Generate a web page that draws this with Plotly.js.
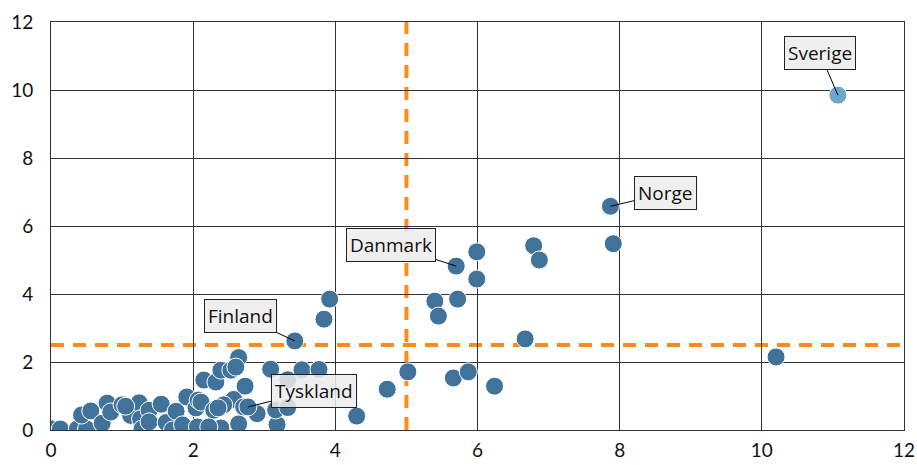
<!DOCTYPE html>
<html>
<head>
<meta charset="utf-8">
<script src="https://cdn.plot.ly/plotly-3.0.1.min.js"></script>
<style>html,body{margin:0;padding:0;background:#fff;}#chart{width:917px;height:465px;}</style>
</head>
<body>
<div id="chart"></div>
<script>
// Other countries (x, y)
const xOther = [0.02,0.13,0.37,0.50,0.43,0.56,0.72,0.79,0.84,1.00,1.12,1.24,1.26,1.28,1.38,1.38,1.55,1.62,1.76,1.71,1.87,1.91,2.04,2.01,2.07,2.11,2.15,2.21,2.32,2.29,2.39,2.41,2.39,2.53,2.57,2.64,2.64,2.60,2.73,2.90,3.09,3.18,3.16,3.33,3.33,3.53,3.77,1.85,2.06,2.22,2.43,2.71,2.35,1.05,
  4.30,4.73,5.02,5.66,5.87,6.24,3.84,3.92,5.40,5.45,5.72,5.99,5.99,6.79,6.87,7.91,6.67,10.20];
const yOther = [0.03,0.03,0.03,0.03,0.44,0.56,0.20,0.79,0.53,0.74,0.43,0.80,0.33,0.03,0.58,0.24,0.76,0.22,0.55,0.00,0.03,0.97,0.65,0.03,0.88,0.82,1.47,0.06,1.41,0.58,1.76,0.70,0.06,1.76,0.90,2.13,0.18,1.85,1.29,0.48,1.79,0.16,0.59,1.48,0.66,1.77,1.78,0.15,0.09,0.09,0.74,0.68,0.65,0.70,
  0.41,1.20,1.71,1.53,1.71,1.29,3.26,3.85,3.79,3.35,3.85,5.24,4.44,5.42,5.00,5.48,2.68,2.15];

// Labelled countries
const labelNames = ["Sverige","Norge","Danmark","Finland","Tyskland"];
const labelX = [11.07,7.87,5.70,3.43,2.77];
const labelY = [9.85,6.58,4.82,2.62,0.68];
const labelAx = [-18,55,-65,-54,66];
const labelAy = [-42,-13,-21,-25,-16];

// Reference thresholds
const threshX = 5;
const threshY = 2.5;

const xTicks = [0,2,4,6,8,10,12];
const yTicks = [0,2,4,6,8,10,12];

const baseColor = '#41739a';
const sverigeColor = '#6ba7cf';

const others = {
  x: xOther.concat(labelX.slice(1)),
  y: yOther.concat(labelY.slice(1)),
  mode: 'markers', type: 'scatter', hoverinfo: 'skip',
  marker: {size: 18, color: baseColor, line: {color: '#ffffff', width: 1}}
};
const sverige = {
  x: [labelX[0]], y: [labelY[0]],
  mode: 'markers', type: 'scatter', hoverinfo: 'skip',
  marker: {size: 18, color: sverigeColor, line: {color: '#ffffff', width: 1}}
};

const annotations = labelNames.map((n, i) => ({
  x: labelX[i], y: labelY[i], xref: 'x', yref: 'y',
  text: n, showarrow: true, arrowhead: 0, arrowwidth: 1, arrowcolor: '#000',
  ax: labelAx[i], ay: labelAy[i], standoff: 0,
  font: {family: '"Open Sans", sans-serif', size: 19, color: '#111'},
  bgcolor: 'rgba(236,236,236,0.85)', bordercolor: '#222', borderwidth: 1, borderpad: 3
}));

const orange = '#ff8a1c';
const shapes = [
  {type: 'line', xref: 'x', yref: 'paper', x0: threshX, x1: threshX, y0: 0, y1: 1,
   layer: 'between', line: {color: orange, width: 4, dash: '13px,9px'}},
  {type: 'line', xref: 'paper', yref: 'y', x0: 0, x1: 1, y0: threshY, y1: threshY,
   layer: 'between', line: {color: orange, width: 4, dash: '13px,9px'}}
];

const axisCommon = {
  showgrid: true, gridcolor: '#333', gridwidth: 1,
  showline: true, linecolor: '#333', linewidth: 1, mirror: true,
  zeroline: false, ticks: '', fixedrange: true,
  tickfont: {family: 'Lato, sans-serif', size: 19, color: '#111'}
};

const layout = {
  width: 917, height: 465,
  margin: {l: 51, r: 13, t: 22, b: 35},
  paper_bgcolor: '#fff', plot_bgcolor: '#fff',
  showlegend: false,
  xaxis: Object.assign({}, axisCommon, {range: [0, 12], tickvals: xTicks, ticktext: xTicks.map(String), ticklabelstandoff: 3}),
  yaxis: Object.assign({}, axisCommon, {range: [0, 12], tickvals: yTicks, ticktext: yTicks.map(String), ticklabelstandoff: 13}),
  annotations: annotations,
  shapes: shapes
};

Plotly.newPlot('chart', [others, sverige], layout, {staticPlot: true, displayModeBar: false});
</script>
</body>
</html>
